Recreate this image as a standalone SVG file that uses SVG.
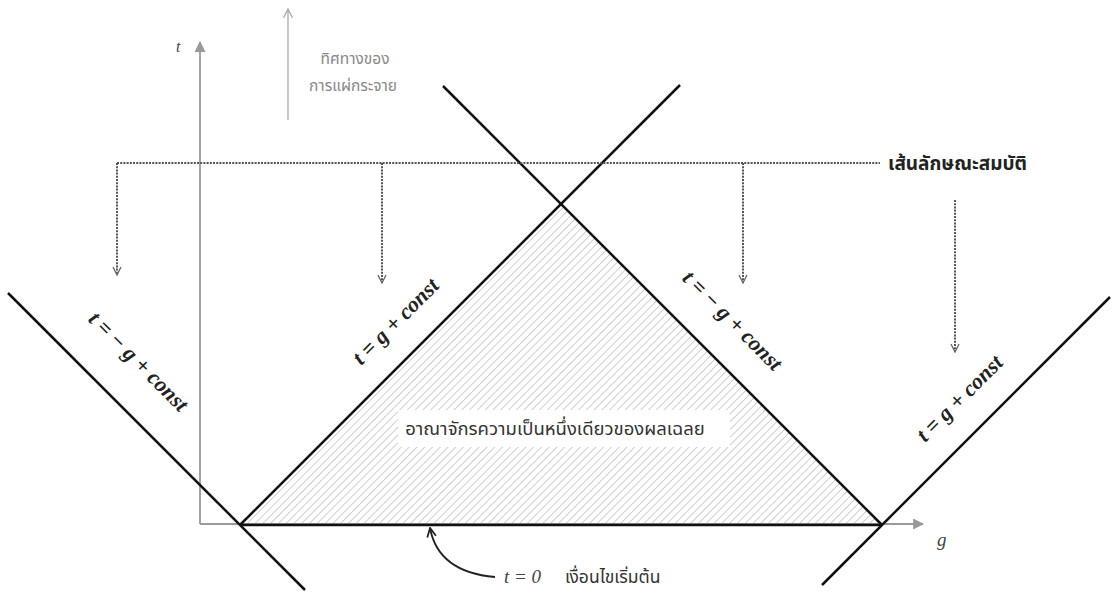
<svg xmlns="http://www.w3.org/2000/svg" width="1117" height="601" viewBox="0 0 1117 601">
<defs>
<style>
.axis{stroke:#9a9a9a;stroke-width:1.8;fill:none}
.thick{stroke:#111;stroke-width:2.5;fill:none}
.dot{stroke:#555;stroke-width:2;stroke-dasharray:2 1.2;fill:none}
.eq{font-family:"Liberation Serif",serif;font-style:italic;font-weight:bold;font-size:22px;fill:#222}
.th{font-family:"Noto Sans","Noto Sans Thai","DejaVu Sans",sans-serif;fill:#333}
.it{font-family:"Liberation Serif",serif;font-style:italic;fill:#444}
</style>
<pattern id="hatch" patternUnits="userSpaceOnUse" width="5.5" height="5.5" patternTransform="rotate(45)">
<line x1="0" y1="0" x2="0" y2="5.5" stroke="#a8a8a8" stroke-width="1.1"/>
</pattern>
<marker id="fillArr" viewBox="0 0 10 10" refX="9" refY="5" markerWidth="11" markerHeight="11" markerUnits="userSpaceOnUse" orient="auto">
<path d="M0,0 L10,5 L0,10 z" fill="#999"/>
</marker>
<marker id="openArr" viewBox="0 0 10 10" refX="9" refY="5" markerWidth="10" markerHeight="10" markerUnits="userSpaceOnUse" orient="auto">
<path d="M1,1 L9,5 L1,9" fill="none" stroke="#666" stroke-width="1.3"/>
</marker>
<marker id="grayOpen" viewBox="0 0 10 10" refX="9" refY="5" markerWidth="11" markerHeight="11" markerUnits="userSpaceOnUse" orient="auto">
<path d="M1,1 L9,5 L1,9" fill="none" stroke="#aaa" stroke-width="1.2"/>
</marker>
<marker id="blackOpen" viewBox="0 0 10 10" refX="9" refY="5" markerWidth="11" markerHeight="11" markerUnits="userSpaceOnUse" orient="auto">
<path d="M1,1 L9,5 L1,9" fill="none" stroke="#222" stroke-width="1.6"/>
</marker>
</defs>
<rect width="1117" height="601" fill="#fff"/>

<g id="region">
<polygon points="240,525 561,204 882,525" fill="url(#hatch)"/>
<rect x="398" y="410" width="332" height="37" fill="#fff"/>
<text class="th" x="555" y="435" font-size="18.5" text-anchor="middle">อาณาจักรความเป็นหนึ่งเดียวของผลเฉลย</text>
</g>

<g id="axes">
<line class="axis" x1="200" y1="524" x2="200" y2="42" marker-end="url(#fillArr)"/>
<line class="axis" x1="200" y1="524" x2="923" y2="524" marker-end="url(#fillArr)"/>
<text class="it" x="176" y="52" font-size="16">t</text>
<text class="it" x="937" y="546" font-size="19">g</text>
</g>

<g id="propagation">
<line x1="288" y1="120" x2="288" y2="9" stroke="#aaa" stroke-width="1.3" marker-end="url(#grayOpen)"/>
<text class="th" x="355" y="64" font-size="15.5" text-anchor="middle" style="fill:#888">ทิศทางของ</text>
<text class="th" x="353" y="91" font-size="15.5" text-anchor="middle" style="fill:#888">การแผ่กระจาย</text>
</g>

<g id="connectors">
<line class="thick" x1="240" y1="525" x2="882" y2="525"/>
<line class="thick" x1="240" y1="525" x2="680" y2="85"/>
<line class="thick" x1="443" y1="86" x2="882" y2="525"/>
<line class="thick" x1="8" y1="293" x2="305" y2="590"/>
<line class="thick" x1="822" y1="585" x2="1110" y2="297"/>

<line class="dot" x1="117" y1="163" x2="880" y2="163"/>
<line class="dot" x1="117" y1="163" x2="117" y2="275" marker-end="url(#openArr)"/>
<line class="dot" x1="382" y1="163" x2="382" y2="283" marker-end="url(#openArr)"/>
<line class="dot" x1="743" y1="163" x2="743" y2="283" marker-end="url(#openArr)"/>
<line class="dot" x1="955" y1="200" x2="955" y2="352" marker-end="url(#openArr)"/>

<path d="M495,577 C460,574 436,560 430,528" fill="none" stroke="#222" stroke-width="1.8" marker-end="url(#blackOpen)"/>
</g>

<g id="labels">
<text class="th" x="888" y="170" font-size="19" font-weight="bold" style="fill:#222">เส้นลักษณะสมบัติ</text>
<text class="eq" transform="translate(137,363) rotate(45)" text-anchor="middle" dominant-baseline="middle">t = − g + const</text>
<text class="eq" transform="translate(397,323) rotate(-45)" text-anchor="middle" dominant-baseline="middle">t = g + const</text>
<text class="eq" transform="translate(731,322) rotate(45)" text-anchor="middle" dominant-baseline="middle">t = − g + const</text>
<text class="eq" transform="translate(961,400) rotate(-45)" text-anchor="middle" dominant-baseline="middle">t = g + const</text>
<text class="it" x="504" y="583" font-size="19">t = 0</text>
<text class="th" x="565" y="583" font-size="17.5" style="fill:#333">เงื่อนไขเริ่มต้น</text>
</g>
</svg>
